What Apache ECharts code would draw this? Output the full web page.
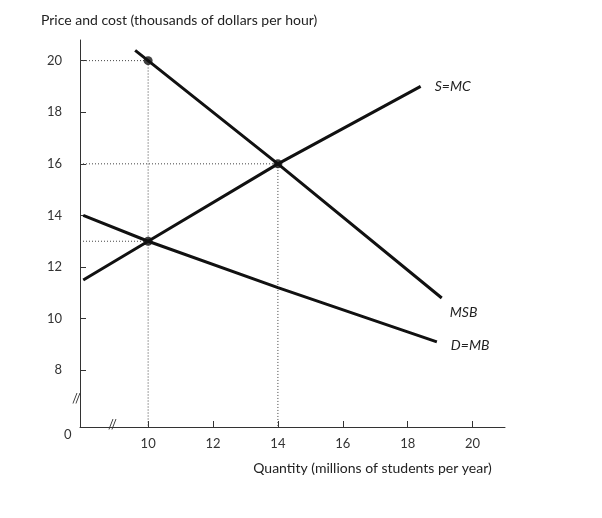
<!DOCTYPE html>
<html><head><meta charset="utf-8">
<script src="https://cdn.jsdelivr.net/npm/echarts@6/dist/echarts.min.js"></script>
<style>html,body{margin:0;background:#fff}#c{width:602px;height:518px}</style>
</head><body><div id="c"></div>
<script>
const xTicks=[10,12,14,16,18,20];
const yTicks=[8,10,12,14,16,18,20];
const smc=[[8,11.5],[10,13],[14,16],[18.4,19.0]];
const msb=[[9.6,20.4],[10,20],[14,16],[19.05,10.8]];
const dmb=[[8,14],[10,13],[14,11.2],[18.9,9.1]];
const eq=[[10,20],[14,16],[10,13]];
const guides=[[[7.9,20],[10,20],[10,5.8]],[[7.9,16],[14,16],[14,5.8]],[[7.9,13],[10,13]]];
const F='Lato';
const lineS=(name,data,label,pos)=>({type:'line',name,data,symbol:'none',silent:true,
  lineStyle:{color:'#111',width:3},z:3,
  endLabel:{show:true,formatter:label,fontFamily:F,fontStyle:'italic',fontSize:14,color:'#222',offset:pos}});
const ch=echarts.init(document.getElementById('c'));
ch.setOption({
  animation:false,
  title:{text:'Price and cost (thousands of dollars per hour)',left:36,top:8,textStyle:{fontFamily:F,fontSize:14,fontWeight:'normal',color:'#222'}},
  grid:{left:80,right:97,top:40,bottom:91},
  xAxis:{type:'value',min:7.9,max:21,
    name:'Quantity (millions of students per year)',nameLocation:'middle',nameGap:34,
    nameTextStyle:{fontFamily:F,fontSize:14,color:'#222',padding:[0,0,0,160]},
    axisLine:{lineStyle:{color:'#333'}},splitLine:{show:false},
    axisTick:{customValues:xTicks,length:-6,lineStyle:{color:'#333'}},
    axisLabel:{customValues:xTicks,fontFamily:F,fontSize:13,color:'#333',margin:10}},
  yAxis:{type:'value',min:5.8,max:20.8,
    axisLine:{show:true,lineStyle:{color:'#333'}},splitLine:{show:false},
    axisTick:{show:true,customValues:yTicks,length:-6,lineStyle:{color:'#333'}},
    axisLabel:{customValues:yTicks,fontFamily:F,fontSize:13,color:'#333',margin:18}},
  graphic:[{type:'text',left:64,top:428,style:{text:'0',font:'13px Lato',fill:'#333'}},
    {type:'text',left:72,top:392,style:{text:'//',font:'13px Lato',fill:'#333'}},
    {type:'text',left:108,top:418,style:{text:'//',font:'13px Lato',fill:'#333'}}],
  series:[
    ...guides.map(g=>({type:'line',data:g,symbol:'none',silent:true,lineStyle:{color:'#444',width:1,type:[1,2]},z:1})),
    lineS('smc',smc,'S=MC',[6,0]),
    lineS('msb',msb,'MSB',[0,14]),
    lineS('dmb',dmb,'D=MB',[6,4]),
    {type:'scatter',data:eq,symbolSize:9,itemStyle:{color:'#111'},z:4,silent:true}
  ]
});
</script></body></html>
